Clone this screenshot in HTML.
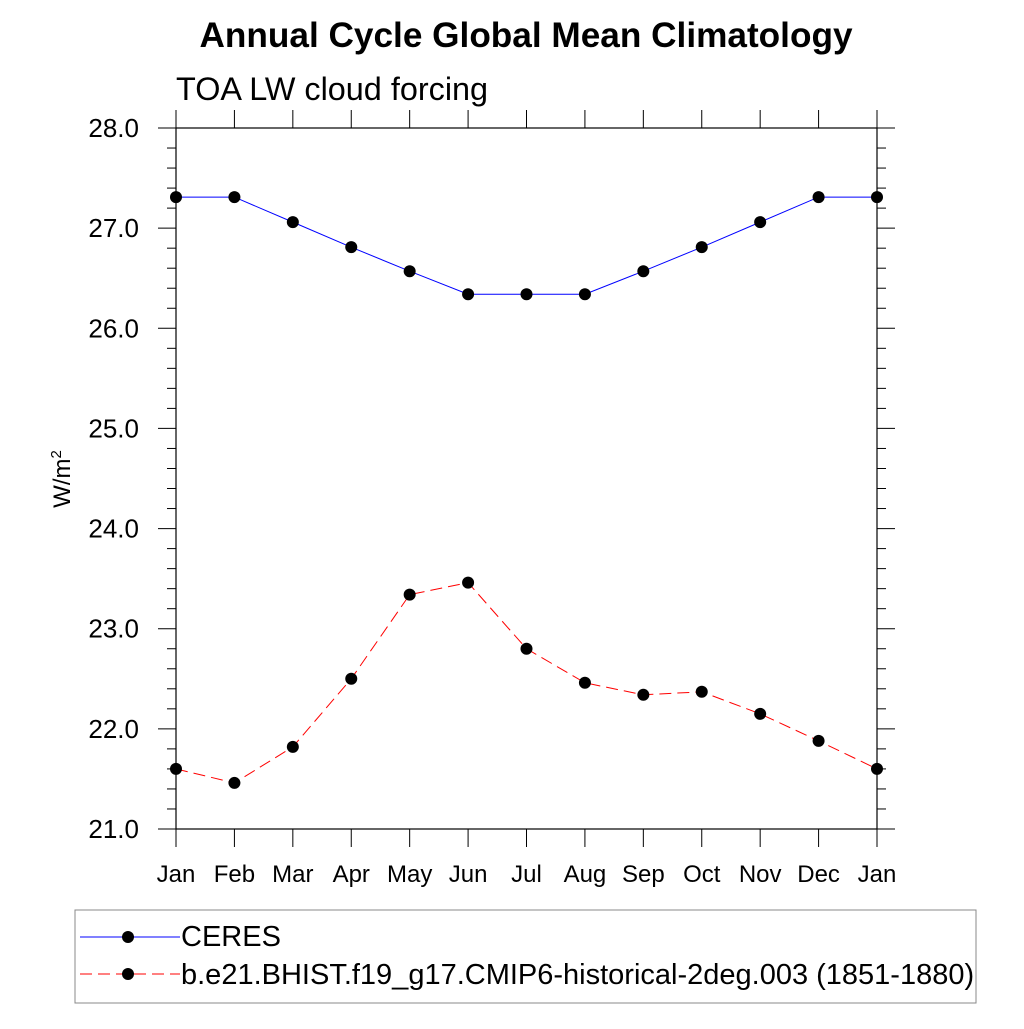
<!DOCTYPE html>
<html><head><meta charset="utf-8"><style>
html,body{margin:0;padding:0;background:#fff;}
svg text{font-family:"Liberation Sans",sans-serif;}
</style></head><body>
<svg id="chart" width="1024" height="1024" xmlns="http://www.w3.org/2000/svg">
<text x="526" y="47" font-size="35.2" font-weight="bold" text-anchor="middle">Annual Cycle Global Mean Climatology</text>
<text x="176" y="100" font-size="32.4">TOA LW cloud forcing</text>
<text transform="translate(70,479) rotate(-90)" font-size="24" text-anchor="middle">W/m<tspan font-size="15" dy="-9">2</tspan></text>
<g id="axes"></g>
<g id="series"></g>
<g>
<rect x="75" y="910" width="901" height="93" fill="none" stroke="#888" stroke-width="1"/>
<g>
<line x1="80" y1="937" x2="180" y2="937" stroke="#00f" stroke-width="1"/>
<circle cx="128" cy="937" r="6" fill="#000"/>
<text x="181" y="946" font-size="29">CERES</text></g>
<g>
<line x1="80" y1="974" x2="180" y2="974" stroke="#f00" stroke-width="1" stroke-dasharray="12,6"/>
<circle cx="128" cy="974" r="6" fill="#000"/>
<text x="181" y="984" font-size="29">b.e21.BHIST.f19_g17.CMIP6-historical-2deg.003 (1851-1880)</text></g>
</g>
</svg>
<script>
const months=["Jan","Feb","Mar","Apr","May","Jun","Jul","Aug","Sep","Oct","Nov","Dec","Jan"];
const ceres=[27.31,27.31,27.06,26.81,26.57,26.34,26.34,26.34,26.57,26.81,27.06,27.31,27.31];
const model=[21.60,21.46,21.82,22.50,23.34,23.46,22.80,22.46,22.34,22.37,22.15,21.88,21.60];
const yTicks=[21,22,23,24,25,26,27,28];
const X0=176,X1=877,Y0=829,Y1=128,YMIN=21,YMAX=28;
const NS="http://www.w3.org/2000/svg";
function xs(i){return X0+(X1-X0)*i/(months.length-1);}
function ys(v){return Y0-(Y0-Y1)*(v-YMIN)/(YMAX-YMIN);}
function mk(tag,attrs,parent){const e=document.createElementNS(NS,tag);for(const k in attrs)e.setAttribute(k,attrs[k]);parent.appendChild(e);return e;}
const ax=document.getElementById('axes');
const fr=mk('rect',{x:X0,y:Y1,width:X1-X0,height:Y0-Y1,fill:'none',stroke:'#000','stroke-width':1.2},ax);


months.forEach((m,i)=>{const x=xs(i);
 mk('line',{x1:x,y1:Y0,x2:x,y2:Y0+18,stroke:'#000'},ax);
 mk('line',{x1:x,y1:Y1,x2:x,y2:Y1-18,stroke:'#000'},ax);
 const t=mk('text',{x:x,y:Y0+53,'font-size':24,'text-anchor':'middle'},ax);t.textContent=m;
 
 
});
for(let v=YMIN;v<=YMAX+1e-9;v+=0.2){const y=ys(v);const maj=Math.abs(v-Math.round(v))<1e-6;const L=maj?18:9;
 mk('line',{x1:X0,y1:y,x2:X0-L,y2:y,stroke:'#000'},ax);
 mk('line',{x1:X1,y1:y,x2:X1+L,y2:y,stroke:'#000'},ax);}
yTicks.forEach(v=>{const t=mk('text',{x:X0-37,y:ys(v)+9,'font-size':26,'text-anchor':'end'},ax);t.textContent=v.toFixed(1);
 
 });
const sg=document.getElementById('series');
function draw(vals,color,dash,name){
 const p=mk('polyline',{points:vals.map((v,i)=>xs(i)+','+ys(v)).join(' '),fill:'none',stroke:color,'stroke-width':1,'stroke-dasharray':dash},sg);
 
 
 vals.forEach((v,i)=>{const c=mk('circle',{cx:xs(i),cy:ys(v),r:6,fill:'#000'},sg);
 
 });
}
draw(ceres,'#00f','none','ceres');
draw(model,'#f00','12,6','model');
</script>
</body></html>
